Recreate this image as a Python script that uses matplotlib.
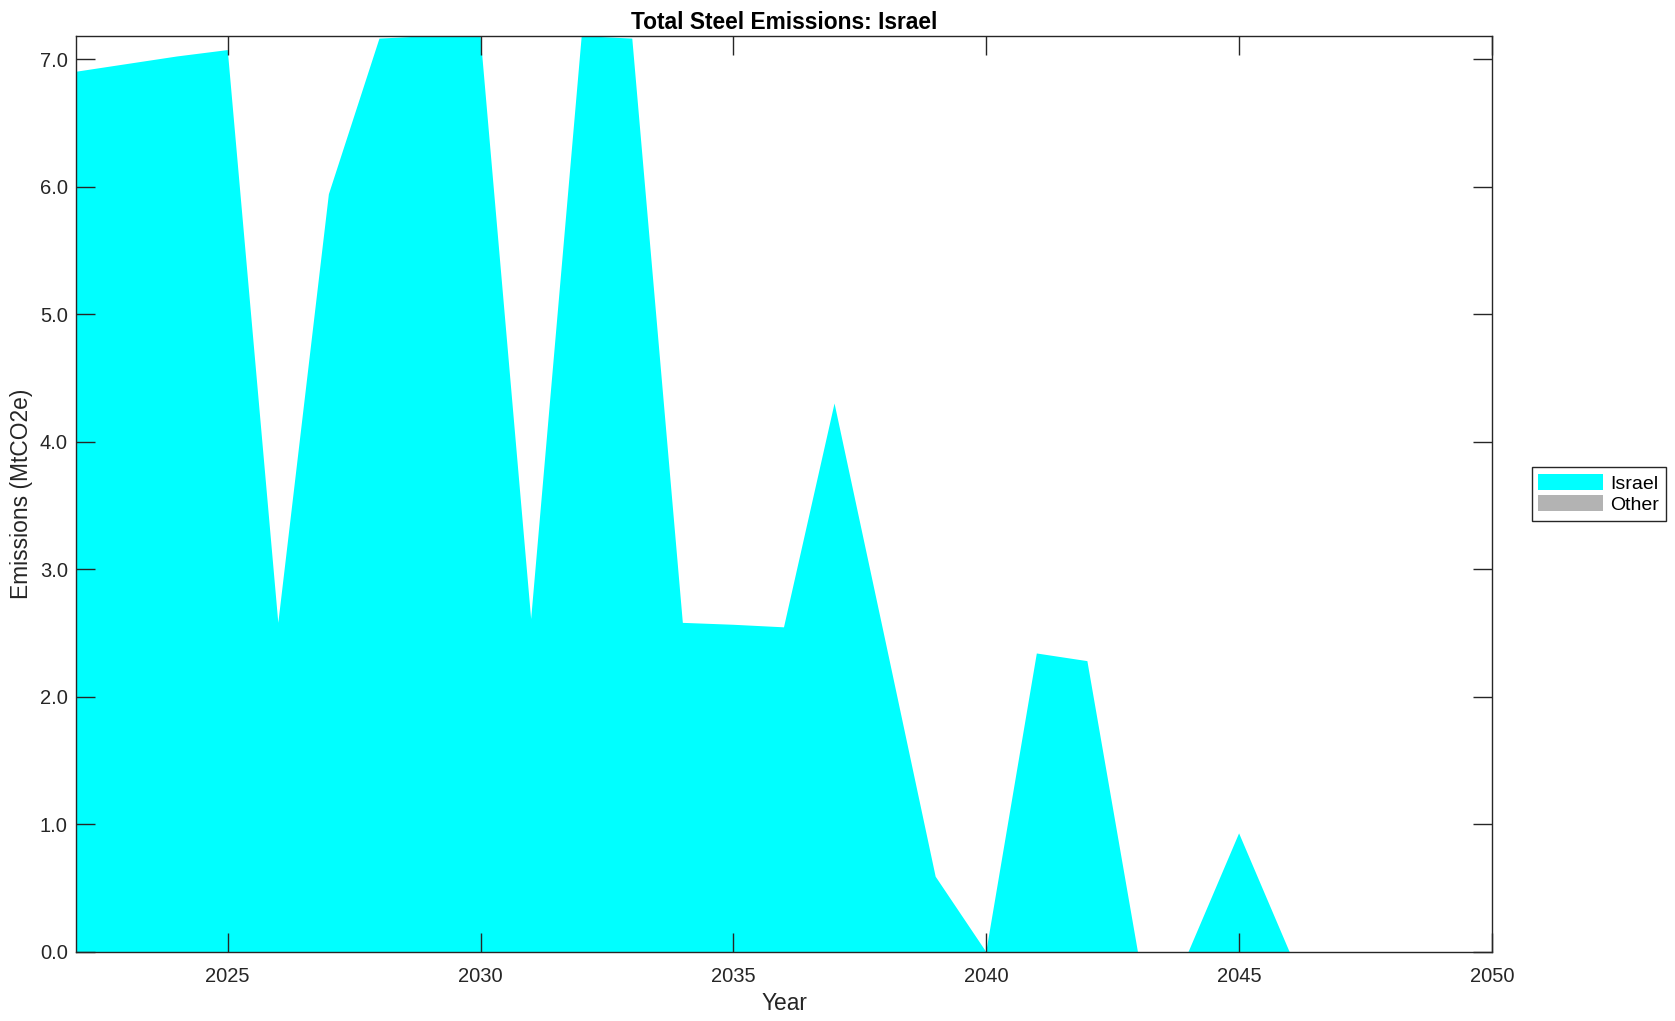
import numpy as np
import matplotlib
matplotlib.use('Agg')
import matplotlib.pyplot as plt

# 年份与排放数据 (MtCO2e)
years = list(range(2022, 2051))
israel = [6.90, 6.96, 7.02, 7.07, 2.58, 5.94, 7.16, 7.18, 7.18, 2.61,
          7.18, 7.16, 2.58, 2.565, 2.545, 4.30, 2.45, 0.59, 0.0, 2.34,
          2.28, 0.0, 0.0, 0.93, 0.0, 0.0, 0.0, 0.0, 0.0]
other = [0.0] * len(years)

series_names = ['Israel', 'Other']
series_colors = ['#00ffff', '#b3b3b3']
x_ticks = [2025, 2030, 2035, 2040, 2045, 2050]
y_ticks = [0, 1, 2, 3, 4, 5, 6, 7]

plt.rcParams['font.family'] = ['Liberation Sans', 'DejaVu Sans']
dark = '#262626'

fig = plt.figure(figsize=(16.75, 10.21), dpi=100)
ax = fig.add_axes([0.0454, 0.0676, 0.8453, 0.8971])

# 堆叠面积图
ax.stackplot(years, israel, other, colors=series_colors,
             labels=series_names, linewidth=0)

ax.set_xlim(2022, 2050)
total = np.array(israel) + np.array(other)
ax.set_ylim(0, total.max())

ax.set_xticks(x_ticks)
ax.set_yticks(y_ticks)
ax.set_yticklabels([f'{v:.1f}' for v in y_ticks])
ax.tick_params(direction='in', length=14, width=1, top=True, right=True,
               labelsize=14.5, colors=dark, labelcolor=dark, pad=6)
ax.tick_params(axis='x', pad=11)
for s in ax.spines.values():
    s.set_color(dark)
    s.set_linewidth(1)

ax.set_xlabel('Year', fontsize=16.4, color=dark, labelpad=4)
ax.set_ylabel('Emissions (MtCO2e)', fontsize=16.4, color=dark, labelpad=5)
ax.set_title('Total Steel Emissions: Israel', fontsize=16.4, fontweight='bold',
             color='black', pad=5)

leg = ax.legend(loc='center left', bbox_to_anchor=(1.028, 0.5), fontsize=14,
                frameon=True, fancybox=False, edgecolor=dark, framealpha=1,
                handlelength=3.3, handleheight=0.85, handletextpad=0.4,
                borderpad=0.35, labelspacing=0.15, borderaxespad=0)
leg.get_frame().set_linewidth(1)

fig.savefig('out.png', dpi=100)
